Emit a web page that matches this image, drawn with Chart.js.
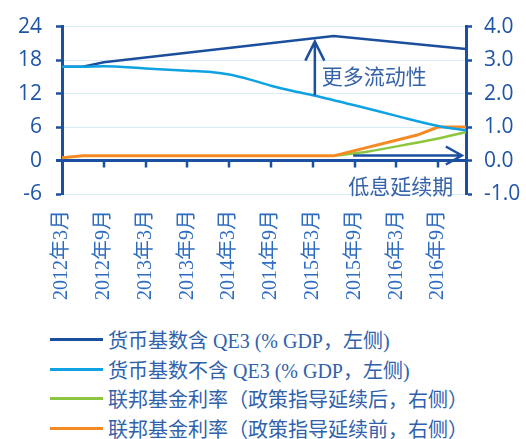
<!DOCTYPE html>
<html lang="zh-CN">
<head>
<meta charset="UTF-8">
<title>货币基数与联邦基金利率</title>
<script src="https://cdn.jsdelivr.net/npm/chart.js"></script>
<style>
  body { margin: 0; background: #fff; }
  .wrap { position: relative; width: 526px; height: 439px; }
  #chart { position: absolute; left: 0; top: 0; }
  .legend {
    position: absolute; left: 50px; top: 325px;
    font-family: 'Liberation Serif', 'Noto Sans CJK SC', serif;
    font-size: 20px; color: #2f62ab; white-space: nowrap;
  }
  .legend div { display: flex; align-items: center; height: 29.5px; }
  .legend .line { width: 53px; height: 3px; margin-right: 5px; }
</style>
</head>
<body>
<div class="wrap">
  <canvas id="chart" width="526" height="310"></canvas>
  <div class="legend" id="legend"></div>
</div>
<script>
// 月度横轴：2012年3月起，共59个月
const startYear = 2012, startMonth = 3, monthCount = 59;
const tickEvery = 6;

// 各序列：月份序号（0 = 2012年3月）与读数
const withQE3Months = [0, 3, 6, 39, 58];
const withQE3Values = [16.8, 16.8, 17.6, 22.3, 20.0];
const noQE3Months = [0, 3, 6, 12, 18, 21, 24, 27, 30, 33, 36, 42, 48, 54, 58];
const noQE3Values = [16.8, 16.8, 16.9, 16.5, 16.1, 15.9, 15.4, 14.5, 13.4, 12.5, 11.7, 9.9, 8.0, 6.2, 5.4];
const fedAfterMonths = [39, 44, 49, 54, 58];
const fedAfterValues = [0.14, 0.27, 0.46, 0.66, 0.85];
const fedBeforeMonths = [0, 3, 39, 51, 54, 58];
const fedBeforeValues = [0.08, 0.14, 0.14, 0.76, 1.0, 1.0];

const seriesNames = [
  '货币基数含 QE3 (% GDP，左侧)',
  '货币基数不含 QE3 (% GDP，左侧)',
  '联邦基金利率（政策指导延续后，右侧）',
  '联邦基金利率（政策指导延续前，右侧）'
];
const seriesColors = ['#1b4f9e', '#0ea2e3', '#8cc63f', '#f58a24'];
const axisColor = '#1b50a0';

const labels = [];
for (let i = 0; i < monthCount; i++) {
  const m = startMonth - 1 + i;
  labels.push((startYear + Math.floor(m / 12)) + '年' + (m % 12 + 1) + '月');
}

function series(months, values) {
  const out = new Array(monthCount).fill(null);
  months.forEach((m, i) => { out[m] = values[i]; });
  return out;
}

function arrow(ctx, x1, y1, x2, y2, headLen, headHalf) {
  const ang = Math.atan2(y2 - y1, x2 - x1);
  const bx = x2 - headLen * Math.cos(ang), by = y2 - headLen * Math.sin(ang);
  const nx = -Math.sin(ang) * headHalf, ny = Math.cos(ang) * headHalf;
  ctx.beginPath();
  ctx.moveTo(x1, y1); ctx.lineTo(x2, y2);
  ctx.moveTo(bx + nx, by + ny); ctx.lineTo(x2, y2); ctx.lineTo(bx - nx, by - ny);
  ctx.stroke();
}

// 零轴、横轴刻度、箭头与注释文字
const overlay = {
  id: 'overlay',
  beforeDatasetsDraw(chart) {
    const { ctx, chartArea: a, scales: { x, y } } = chart;
    const y0 = y.getPixelForValue(0);
    ctx.save();
    ctx.strokeStyle = axisColor;
    ctx.lineWidth = 3;
    ctx.beginPath();
    ctx.moveTo(a.left - 6, y0); ctx.lineTo(a.right, y0);
    ctx.stroke();
    ctx.lineWidth = 2.5;
    ctx.beginPath();
    for (let i = tickEvery; i < monthCount; i += tickEvery) {
      const px = Math.round(x.getPixelForValue(i));
      ctx.moveTo(px, y0); ctx.lineTo(px, y0 + 7);
    }
    ctx.stroke();
    ctx.restore();
  },
  afterDatasetsDraw(chart) {
    const { ctx, scales: { x, y, y2 } } = chart;
    ctx.save();
    ctx.strokeStyle = axisColor;
    ctx.lineWidth = 2.5;
    ctx.lineJoin = 'miter';
    const ax = x.getPixelForValue(36.3);
    arrow(ctx, ax, y.getPixelForValue(11.7), ax, y.getPixelForValue(21.3), 19, 9.5);
    const ay = y2.getPixelForValue(0.15);
    arrow(ctx, x.getPixelForValue(41.8), ay, x.getPixelForValue(57.4), ay, 16, 9);

    ctx.fillStyle = '#3763a9';
    ctx.font = '21px "Noto Sans CJK SC"';
    ctx.textBaseline = 'middle';
    ctx.textAlign = 'left';
    ctx.fillText('更多流动性', x.getPixelForValue(37.3), y.getPixelForValue(15.2));
    ctx.fillText('低息延续期', x.getPixelForValue(41.1), y.getPixelForValue(-4.5));
    ctx.restore();
  }
};

const tickFont = { family: "'Open Sans', 'DejaVu Sans', sans-serif", size: 21 };

new Chart(document.getElementById('chart').getContext('2d'), {
  type: 'line',
  data: {
    labels: labels,
    datasets: [
      { label: seriesNames[0], data: series(withQE3Months, withQE3Values), yAxisID: 'y',
        borderColor: seriesColors[0], borderWidth: 2.5, tension: 0, order: 1 },
      { label: seriesNames[1], data: series(noQE3Months, noQE3Values), yAxisID: 'y',
        borderColor: seriesColors[1], borderWidth: 2.5, cubicInterpolationMode: 'monotone', order: 0 },
      { label: seriesNames[2], data: series(fedAfterMonths, fedAfterValues), yAxisID: 'y2',
        borderColor: seriesColors[2], borderWidth: 2.5, cubicInterpolationMode: 'monotone', order: 3 },
      { label: seriesNames[3], data: series(fedBeforeMonths, fedBeforeValues), yAxisID: 'y2',
        borderColor: seriesColors[3], borderWidth: 3, tension: 0, order: 2 }
    ]
  },
  options: {
    responsive: false,
    animation: false,
    devicePixelRatio: 1,
    spanGaps: true,
    layout: { padding: { top: 22, left: 0, right: 0, bottom: 0 } },
    elements: { point: { radius: 0 } },
    plugins: { legend: { display: false }, tooltip: { enabled: false } },
    scales: {
      x: {
        type: 'category',
        offset: false,
        grid: { display: false, drawTicks: false },
        border: { display: false },
        ticks: {
          autoSkip: false, minRotation: 90, maxRotation: 90, padding: 16,
          color: '#2e6cbf',
          font: { family: "'Liberation Serif', 'Noto Sans CJK SC', serif", size: 20 },
          callback: (v, i) => (i % tickEvery === 0 ? labels[i] : '')
        },
        afterFit: s => { s.height = 116; }
      },
      y: {
        position: 'left', min: -6, max: 24,
        ticks: { stepSize: 6, padding: 14, color: '#1f55a6', font: tickFont },
        grid: { color: '#d8ecf8', lineWidth: 1, tickColor: axisColor, tickLength: 6, tickWidth: 2.5 },
        border: { color: axisColor, width: 3 },
        afterFit: s => { s.width = 62; }
      },
      y2: {
        position: 'right', min: -1, max: 4,
        ticks: { stepSize: 1, padding: 12, color: '#1f55a6', font: tickFont,
                 callback: v => v.toFixed(1) },
        grid: { drawOnChartArea: false, tickColor: axisColor, tickLength: 6, tickWidth: 2.5 },
        border: { color: axisColor, width: 3 },
        afterFit: s => { s.width = 60; }
      }
    }
  },
  plugins: [overlay]
});

// 图例
const legendBox = document.getElementById('legend');
seriesNames.forEach((name, i) => {
  const row = document.createElement('div');
  const line = document.createElement('span');
  line.className = 'line';
  line.style.background = seriesColors[i];
  row.appendChild(line);
  row.appendChild(document.createTextNode(name));
  legendBox.appendChild(row);
});
</script>
</body>
</html>
